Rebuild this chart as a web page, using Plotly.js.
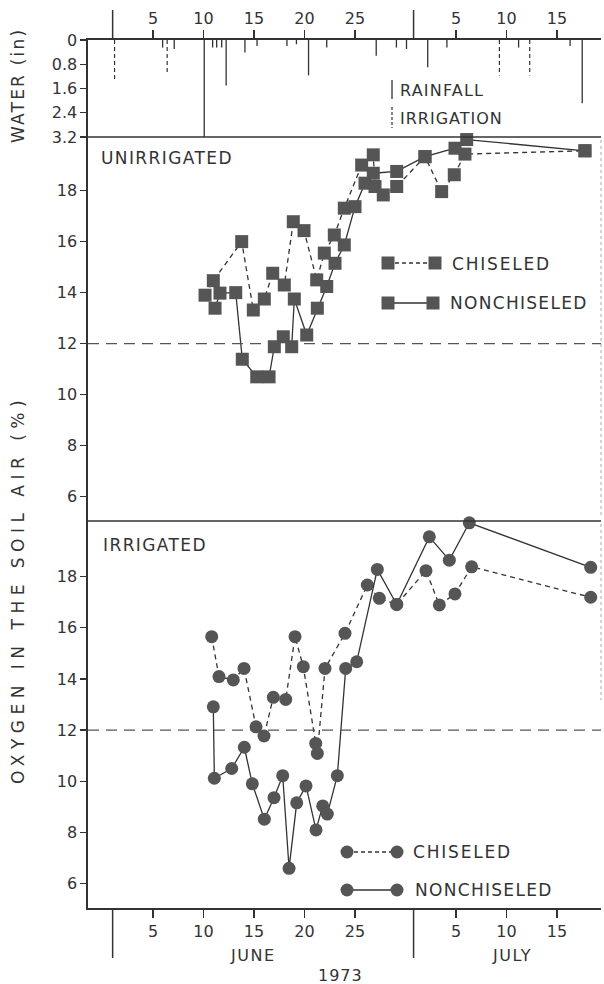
<!DOCTYPE html>
<html>
<head>
<meta charset="utf-8">
<script src="https://cdn.plot.ly/plotly-3.0.1.min.js"></script>
<style>
html,body{margin:0;padding:0;background:#fff;}
#chart{width:604px;height:984px;}
</style>
</head>
<body>
<div id="chart"></div>
<script>
// ---------------- DATA ----------------
// x values: day counted from June 1 (July d = 30 + d)
const tickDays   = [5, 10, 15, 20, 25, 35, 40, 45];
const tickLabels = ['5', '10', '15', '20', '25', '5', '10', '15'];
const monthBounds = [1, 30.8];

// Water (inches)
const rainDay = [5.95, 7.1, 10.07, 10.9, 11.3, 11.8, 12.24, 14.1, 15.3, 18.26, 19.2, 20.4, 22.2, 27.1, 29.1, 30.1, 32.2, 34.1, 41.2, 46.3, 47.5];
const rainIn  = [0.25, 0.3, 3.2, 0.25, 0.25, 0.25, 1.5, 0.41, 0.2, 0.2, 0.14, 1.17, 0.25, 0.52, 0.25, 0.3, 0.9, 0.25, 0.25, 0.2, 2.09];
const irrDay  = [1.19, 6.4, 39.3, 42.3];
const irrIn   = [1.33, 1.12, 1.17, 1.17];

// Unirrigated, oxygen %
const unChisDay = [10.15, 10.97, 13.78, 14.93, 16.02, 16.85, 18.0, 18.89, 19.95, 21.21, 21.96, 22.95, 23.94, 25.66, 26.81, 26.98, 27.8, 29.13, 31.93, 33.58, 34.83, 35.89, 47.77];
const unChisO2  = [13.9, 14.47, 16.0, 13.32, 13.75, 14.76, 14.3, 16.78, 16.43, 14.5, 15.55, 16.26, 17.31, 19.0, 19.4, 18.16, 17.83, 18.16, 19.33, 17.96, 18.62, 19.43, 19.56];
const unNonDay  = [11.14, 11.63, 13.19, 13.84, 15.27, 16.49, 17.01, 17.9, 18.73, 18.99, 20.22, 21.27, 22.2, 23.02, 23.94, 25.0, 25.99, 26.81, 29.13, 31.93, 34.9, 36.06, 47.77];
const unNonO2   = [13.39, 13.98, 14.0, 11.39, 10.7, 10.7, 11.88, 12.27, 11.88, 13.75, 12.34, 13.39, 14.24, 15.15, 15.87, 17.37, 18.29, 18.68, 18.75, 19.33, 19.66, 20.0, 19.56];

// Irrigated, oxygen %
const irChisDay = [10.81, 11.53, 12.95, 14.01, 15.2, 15.99, 16.91, 18.14, 19.06, 19.88, 21.11, 21.27, 22.03, 24.01, 26.22, 27.41, 29.13, 32.03, 33.35, 34.9, 36.55, 48.34];
const irChisO2  = [15.65, 14.09, 13.96, 14.41, 12.13, 11.77, 13.28, 13.2, 15.65, 14.48, 11.48, 11.09, 14.41, 15.78, 17.67, 17.15, 16.91, 18.23, 16.89, 17.32, 18.38, 17.19];
const irNonDay  = [10.97, 11.07, 12.79, 14.04, 14.83, 16.02, 16.98, 17.84, 18.47, 19.23, 20.15, 21.14, 21.8, 22.26, 23.25, 24.08, 25.17, 27.21, 29.13, 32.36, 34.34, 36.32, 48.34];
const irNonO2   = [12.91, 10.12, 10.5, 11.33, 9.9, 8.52, 9.36, 10.22, 6.6, 9.16, 9.82, 8.1, 9.04, 8.72, 10.22, 14.41, 14.67, 18.28, 16.91, 19.55, 18.64, 20.1, 18.36];

const o2Ticks = [6, 8, 10, 12, 14, 16, 18];
const waterTicks = [0, 0.8, 1.6, 2.4, 3.2];
const waterTickText = ['0', '0.8', '1.6', '2.4', '3.2'];
const criticalO2 = 12;

// ---------------- LAYOUT HELPERS ----------------
const L = 88, R = 601, T = 40, B = 908;
const W = R - L, H = B - T;
const px = p => (p - L) / W;
const py = p => (B - p) / H;
const dWater = py(137), dUpper = py(521);
const xRange = [-1.44, 49.36];
const INK = '#333';
const MARK = '#555';
const FONT = 'DejaVu Sans, Liberation Sans, sans-serif';

function sticks(days, vals) {
  const x = [], y = [];
  days.forEach((d, i) => { x.push(d, d, null); y.push(0, vals[i], null); });
  return {x, y};
}
const rs = sticks(rainDay, rainIn);
const is = sticks(irrDay, irrIn);

const traces = [
  {x: rs.x, y: rs.y, xaxis: 'x3', yaxis: 'y3', mode: 'lines', line: {color: INK, width: 1.3}, hoverinfo: 'skip'},
  {x: is.x, y: is.y, xaxis: 'x3', yaxis: 'y3', mode: 'lines', line: {color: INK, width: 1.2, dash: '4px,3px'}, hoverinfo: 'skip'},
  {x: unChisDay, y: unChisO2, xaxis: 'x2', yaxis: 'y2', mode: 'lines+markers', cliponaxis: false,
   line: {color: INK, width: 1.3, dash: '5px,4px'}, marker: {symbol: 'square', size: 13, color: MARK}},
  {x: unNonDay, y: unNonO2, xaxis: 'x2', yaxis: 'y2', mode: 'lines+markers', cliponaxis: false,
   line: {color: INK, width: 1.3}, marker: {symbol: 'square', size: 13, color: MARK}},
  {x: irChisDay, y: irChisO2, xaxis: 'x', yaxis: 'y', mode: 'lines+markers', cliponaxis: false,
   line: {color: INK, width: 1.3, dash: '5px,4px'}, marker: {symbol: 'circle', size: 13, color: MARK}},
  {x: irNonDay, y: irNonO2, xaxis: 'x', yaxis: 'y', mode: 'lines+markers', cliponaxis: false,
   line: {color: INK, width: 1.3}, marker: {symbol: 'circle', size: 13, color: MARK}}
];

const axCommon = {showgrid: false, zeroline: false, linecolor: INK, linewidth: 1.6, tickcolor: INK, tickwidth: 1.3,
  tickfont: {family: FONT, size: 16, color: INK}};

const layout = {
  width: 604, height: 984,
  margin: {l: L, r: 604 - R, t: T, b: 984 - B},
  paper_bgcolor: '#fff', plot_bgcolor: '#fff',
  showlegend: false,
  font: {family: FONT, color: INK},
  xaxis: Object.assign({}, axCommon, {domain: [0, 1], range: xRange, anchor: 'y', showline: true, ticks: 'outside', ticklen: 8,
    tickvals: tickDays, ticktext: tickLabels}),
  xaxis2: {domain: [0, 1], range: xRange, anchor: 'y2', showline: false, showticklabels: false, ticks: '', showgrid: false, zeroline: false},
  xaxis3: Object.assign({}, axCommon, {domain: [0, 1], range: xRange, anchor: 'y3', side: 'top', showline: true, ticks: 'outside', ticklen: 8,
    tickvals: tickDays, ticktext: tickLabels}),
  yaxis: Object.assign({}, axCommon, {domain: [0, dUpper], range: [5.05, 20.17], anchor: 'x', showline: true, ticks: 'outside', ticklen: 6,
    tickvals: o2Ticks}),
  yaxis2: Object.assign({}, axCommon, {domain: [dUpper, dWater], range: [5.05, 20.1], anchor: 'x2', showline: true, ticks: 'outside', ticklen: 6,
    tickvals: o2Ticks}),
  yaxis3: Object.assign({}, axCommon, {domain: [dWater, 1], range: [3.2, 0], anchor: 'x3', showline: true, ticks: 'outside', ticklen: 6,
    tickvals: waterTicks, ticktext: waterTickText}),
  shapes: [],
  annotations: []
};

// panel separators
[137, 521].forEach(p => layout.shapes.push({type: 'line', xref: 'paper', yref: 'paper', x0: 0, x1: 1, y0: py(p), y1: py(p),
  line: {color: INK, width: 1.6}}));
// right faint edges
layout.shapes.push({type: 'line', xref: 'paper', yref: 'paper', x0: 1, x1: 1, y0: py(140), y1: py(518), line: {color: '#aaa', width: 1, dash: 'dot'}});
layout.shapes.push({type: 'line', xref: 'paper', yref: 'paper', x0: 1, x1: 1, y0: py(524), y1: py(700), line: {color: '#aaa', width: 1, dash: 'dot'}});
// critical 12 % lines
['y', 'y2'].forEach(ax => layout.shapes.push({type: 'line', xref: 'paper', yref: ax, x0: 0, x1: 1, y0: criticalO2, y1: criticalO2,
  line: {color: MARK, width: 1.3, dash: '11px,7px'}}));
// month boundary tall ticks
monthBounds.forEach(d => {
  layout.shapes.push({type: 'line', xref: 'x3', yref: 'paper', x0: d, x1: d, y0: 1, y1: py(10), line: {color: INK, width: 1.5}});
  layout.shapes.push({type: 'line', xref: 'x', yref: 'paper', x0: d, x1: d, y0: 0, y1: py(958), line: {color: INK, width: 1.5}});
});

// legend glyphs
function glyph(x1, x2, yy, sym, dash) {
  layout.shapes.push({type: 'line', xref: 'paper', yref: 'paper', x0: px(x1), x1: px(x2), y0: py(yy), y1: py(yy),
    line: {color: INK, width: 1.3, dash: dash}});
  [x1, x2].forEach(cx => {
    const h = 6.5;
    layout.shapes.push({type: sym, xref: 'paper', yref: 'paper', x0: px(cx - h), x1: px(cx + h), y0: py(yy + h), y1: py(yy - h),
      fillcolor: MARK, line: {color: MARK, width: 0}});
  });
}
glyph(388, 435, 263, 'rect', '4px,3px');
glyph(388, 433, 303, 'rect', 'solid');
glyph(347, 397, 852, 'circle', '4px,3px');
glyph(347, 397, 890, 'circle', 'solid');
// rainfall / irrigation legend bars
layout.shapes.push({type: 'line', xref: 'paper', yref: 'paper', x0: px(392), x1: px(392), y0: py(80), y1: py(99), line: {color: INK, width: 1.3}});
layout.shapes.push({type: 'line', xref: 'paper', yref: 'paper', x0: px(392), x1: px(392), y0: py(107), y1: py(128), line: {color: INK, width: 1.2, dash: '3px,2px'}});

function txt(s, x, y, opts) {
  const sp = (opts && opts.sp) || 1.2;
  layout.annotations.push(Object.assign({
    text: '<span style="letter-spacing:' + sp + 'px">' + s + '</span>',
    xref: 'paper', yref: 'paper', x: px(x), y: py(y), xanchor: 'left', yanchor: 'middle', showarrow: false,
    font: {family: FONT, size: 17, color: INK}
  }, opts || {}));
}
txt('UNIRRIGATED', 99, 158, {sp: 1.4});
txt('IRRIGATED', 101, 545, {sp: 1.4});
txt('RAINFALL', 398, 90, {sp: 1.2, font: {family: FONT, size: 16, color: INK}});
txt('IRRIGATION', 398, 118, {sp: 1.0, font: {family: FONT, size: 16, color: INK}});
txt('CHISELED', 450, 264, {sp: 1.8});
txt('NONCHISELED', 448, 303, {sp: 1.3});
txt('CHISELED', 411, 852, {sp: 1.8});
txt('NONCHISELED', 413, 890, {sp: 1.3});
txt('JUNE', 253, 955, {xanchor: 'center', sp: 1.5, font: {family: FONT, size: 16, color: INK}});
txt('JULY', 512, 955, {xanchor: 'center', sp: 1.5, font: {family: FONT, size: 16, color: INK}});
txt('1973', 340, 975, {xanchor: 'center', sp: 1, font: {family: FONT, size: 16, color: INK}});
txt('WATER (in)', 18, 86, {xanchor: 'center', textangle: -90, sp: 2.2});
txt('OXYGEN IN THE SOIL AIR (%)', 18, 590, {xanchor: 'center', textangle: -90, sp: 5.5});

Plotly.newPlot('chart', traces, layout, {staticPlot: true, displayModeBar: false});
</script>
</body>
</html>
